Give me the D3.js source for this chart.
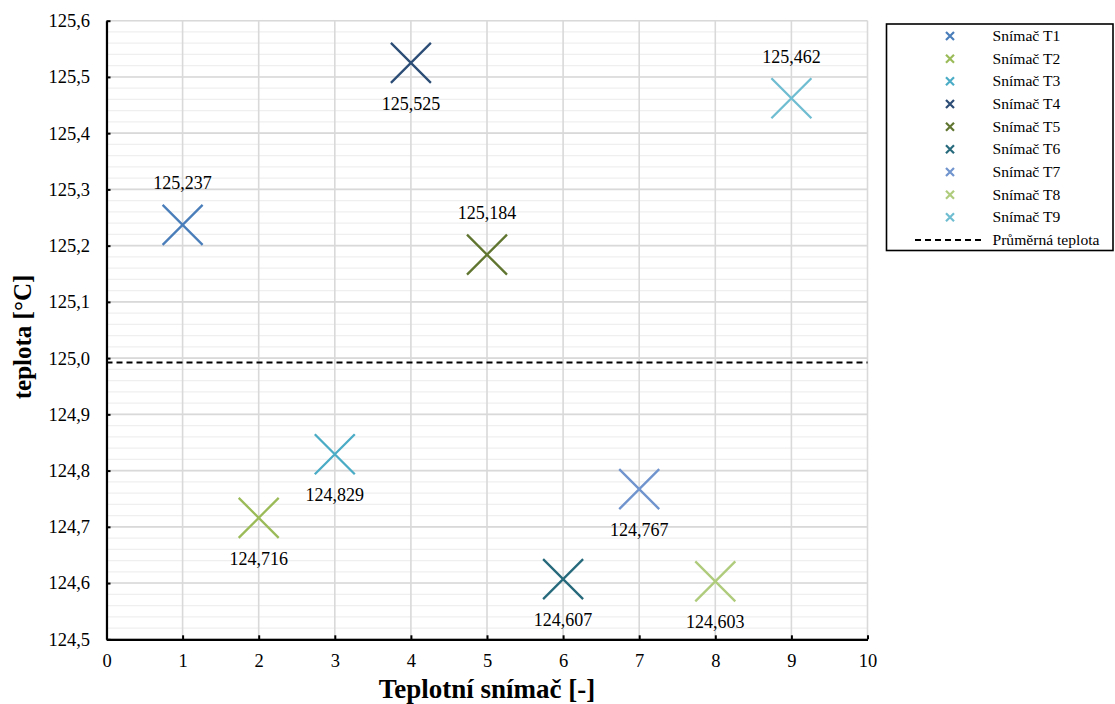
<!DOCTYPE html>
<html><head><meta charset="utf-8">
<script src="https://cdn.jsdelivr.net/npm/d3@7"></script>
<style>body{margin:0;background:#fff}svg{display:block}</style>
</head><body>
<svg id="c" width="1115" height="704"></svg>
<script>
const sensors = ["Snímač T1","Snímač T2","Snímač T3","Snímač T4","Snímač T5","Snímač T6","Snímač T7","Snímač T8","Snímač T9"];
const xValues = [1,2,3,4,5,6,7,8,9];
const temps = [125.237,124.716,124.829,125.525,125.184,124.607,124.767,124.603,125.462];
const labelPos = ["above","below","below","below","above","below","below","below","above"];
const colors = ["#4a7ebb","#9bbb59","#4bacc6","#2c4d75","#5f7530","#276a7c","#7094cd","#afcb7c","#6fbdd1"];
const avgLabel = "Průměrná teplota";
const avgTemp = d3.mean(temps);
const xTicks = d3.range(0,11,1);
const yTicks = [124.5,124.6,124.7,124.8,124.9,125.0,125.1,125.2,125.3,125.4,125.5,125.6];

const FF = "'Liberation Serif','Times New Roman',Times,serif";
const svg = d3.select("#c").attr("font-family",FF);
const m = {l:106.5, r:867.5, t:20.7, b:639.3};
const x = d3.scaleLinear().domain([0,10]).range([m.l,m.r]);
const y = d3.scaleLinear().domain([124.5,125.6]).range([m.b,m.t]);
const fmt = v => d3.format(".1f")(v).replace(".",",");
const fmt3 = v => d3.format(".3f")(v).replace(".",",");

const minor = d3.range(124.5,125.6001,0.02).map(v=>+v.toFixed(2));
svg.append("g").selectAll("line").data(minor).join("line")
  .attr("x1",m.l).attr("x2",m.r).attr("y1",d=>y(d)).attr("y2",d=>y(d))
  .attr("stroke","#efefef").attr("stroke-width",1.3);
svg.append("g").selectAll("line").data(yTicks).join("line")
  .attr("x1",m.l).attr("x2",m.r).attr("y1",d=>y(d)).attr("y2",d=>y(d))
  .attr("stroke","#d9d9d9").attr("stroke-width",1.6);
svg.append("g").selectAll("line").data(xTicks).join("line")
  .attr("x1",d=>x(d)).attr("x2",d=>x(d)).attr("y1",m.t).attr("y2",m.b)
  .attr("stroke","#d9d9d9").attr("stroke-width",1.6);

const ya = svg.append("g").attr("transform",`translate(${m.l},0)`)
  .call(d3.axisLeft(y).tickValues(yTicks).tickFormat(fmt).tickSizeInner(-4).tickSizeOuter(0).tickPadding(16.5));
const xa = svg.append("g").attr("transform",`translate(0,${m.b})`)
  .call(d3.axisBottom(x).tickValues(xTicks).tickFormat(d3.format("d")).tickSizeInner(-4).tickSizeOuter(0).tickPadding(15));
[ya,xa].forEach(a=>{
  a.attr("font-family",FF).attr("font-size",18);
  a.select(".domain").attr("stroke","#000").attr("stroke-width",2.2);
  a.selectAll(".tick line").attr("stroke","#000").attr("stroke-width",2);
  a.selectAll("text").attr("font-size",18.5).attr("fill","#000").attr("font-family",FF);
});

svg.append("line").attr("x1",m.l).attr("x2",m.r).attr("y1",y(avgTemp)).attr("y2",y(avgTemp))
  .attr("stroke","#000").attr("stroke-width",1.8).attr("stroke-dasharray","6,4");

const s = 20;
const g = svg.append("g");
temps.forEach((t,i)=>{
  const cx = x(xValues[i]), cy = y(t);
  g.append("path").attr("d",`M${cx-s},${cy-s}L${cx+s},${cy+s}M${cx-s},${cy+s}L${cx+s},${cy-s}`)
    .attr("stroke",colors[i]).attr("stroke-width",2.3).attr("fill","none");
  g.append("text").attr("x",cx).attr("y",labelPos[i]==="above"?cy-35.5:cy+47)
    .attr("text-anchor","middle").attr("font-size",18).attr("font-family",FF).attr("fill","#000").text(fmt3(t));
});

svg.append("text").attr("x",487).attr("y",697.5).attr("text-anchor","middle").attr("font-family",FF)
  .attr("font-size",27).attr("font-weight","bold").text("Teplotní snímač [-]");
svg.append("text").attr("transform","translate(31,337) rotate(-90)").attr("text-anchor","middle").attr("font-family",FF)
  .attr("font-size",25).attr("font-weight","bold").text("teplota [°C]");

const lg = svg.append("g");
lg.append("rect").attr("x",886.5).attr("y",24).attr("width",226.5).attr("height",226.5)
  .attr("fill","#fff").attr("stroke","#000").attr("stroke-width",1.6);
const ly = d3.scaleLinear().domain([0,9]).range([36,240]);
sensors.forEach((n,i)=>{
  const cy = ly(i), cx = 950, k = 4;
  lg.append("path").attr("d",`M${cx-k},${cy-k}L${cx+k},${cy+k}M${cx-k},${cy+k}L${cx+k},${cy-k}`)
    .attr("stroke",colors[i]).attr("stroke-width",2.2);
  lg.append("text").attr("x",992.5).attr("y",cy+5).attr("font-size",15.6).attr("font-family",FF).text(n);
});
lg.append("line").attr("x1",915).attr("x2",981).attr("y1",ly(9)).attr("y2",ly(9))
  .attr("stroke","#000").attr("stroke-width",1.8).attr("stroke-dasharray","6,4");
lg.append("text").attr("x",992.5).attr("y",ly(9)+5).attr("font-size",15.6).attr("font-family",FF).text(avgLabel);
</script>
</body></html>
